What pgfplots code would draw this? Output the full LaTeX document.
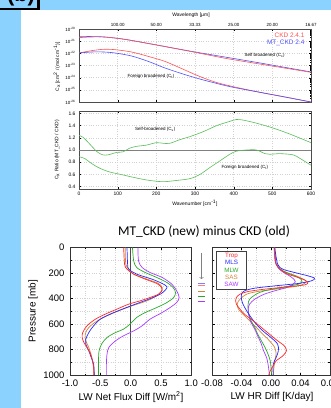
\documentclass[border=0pt]{standalone}
\usepackage{pgfplots}
\pgfplotsset{compat=1.18}
\usetikzlibrary{arrows.meta}
\usepackage{fontspec}
\setmainfont{Liberation Sans}
\newfontfamily\titlefont{Carlito}
\definecolor{bgblue}{RGB}{140,210,255}
\definecolor{ckdred}{RGB}{255,80,80}
\definecolor{mtblue}{RGB}{80,80,255}
\definecolor{ratgreen}{RGB}{90,190,90}
\definecolor{trop}{RGB}{255,40,40}
\definecolor{mls}{RGB}{40,40,255}
\definecolor{mlw}{RGB}{40,170,40}
\definecolor{sas}{RGB}{205,135,60}
\definecolor{saw}{RGB}{170,60,255}
\newcommand{\tnyf}{\fontsize{4.5}{5}\selectfont}
\newcommand{\smlf}{\fontsize{5}{6}\selectfont}
\newcommand{\tlf}{\fontsize{9.5}{10}\selectfont}
\newcommand{\supr}[1]{\textsuperscript{#1}}
\pgfplotsset{scaled ticks=false}
\begin{document}
\begin{tikzpicture}[x=1bp,y=1bp]
\path[use as bounding box] (0,0) rectangle (331,408);
\clip (0,0) rectangle (331,408);
\fill[bgblue] (0,0) rectangle (331,408);
\fill[white] (21,0) rectangle (331,398);
\draw[line width=2.5bp, fill=bgblue] (-5,399) rectangle (38.5,430);
\node[anchor=base, font=\bfseries\fontsize{22}{22}\selectfont, inner sep=0] at (21,406) {(b)};

% ---------- top panel: continuum coefficients ----------
\begin{axis}[at={(79bp,306bp)}, anchor=south west, scale only axis,
  width=232bp, height=73bp,
  xmin=0, xmax=600, ymode=log, ymin=1e-26, ymax=1e-20,
  xtick={0,100,200,300,400,500,600},
  xticklabels={,100.00,50.00,33.33,25.00,20.00,16.67},
  xticklabel pos=upper,
  ytick={1e-26,1e-25,1e-24,1e-23,1e-22,1e-21,1e-20},
  yticklabels={10\supr{-26},10\supr{-25},10\supr{-24},10\supr{-23},10\supr{-22},10\supr{-21},10\supr{-20}},
  minor y tick num=0,
  tick align=inside, major tick length=2bp, minor tick length=1bp,
  tick style={black, line width=0.3bp},
  ticklabel style={font=\tnyf},
  xticklabel style={yshift=-1bp},
  grid=major, major grid style={gray!35, dotted, line width=0.4bp},
  axis line style={black!70, line width=0.4bp},
  every axis plot/.append style={line width=0.6bp},
]
\addplot[mtblue, smooth] coordinates {(0,2.34e-21) (30,2.40e-21) (67,2.19e-21) (119,1.41e-21) (205,4.57e-22) (291,1.45e-22) (377,5.01e-23) (464,1.70e-23) (600,2.95e-24)};
\addplot[ckdred, smooth] coordinates {(0,1.95e-21) (30,2.19e-21) (67,2.19e-21) (119,1.41e-21) (205,4.57e-22) (291,1.38e-22) (377,3.98e-23) (464,1.38e-23) (600,2.75e-24)};
\addplot[ckdred, smooth] coordinates {(0,1.07e-22) (33,1.66e-22) (63,2.14e-22) (93,2.00e-22) (136,1.29e-22) (179,5.62e-23) (222,2.19e-23) (266,5.50e-24) (309,1.38e-24) (352,4.37e-25) (395,1.95e-25) (464,6.61e-26) (533,2.57e-26) (600,1.0e-26)};
\addplot[mtblue, smooth] coordinates {(0,1.07e-22) (33,1.29e-22) (63,1.29e-22) (93,1.07e-22) (136,6.03e-23) (179,2.19e-23) (222,6.31e-24) (266,2.14e-24) (309,8.32e-25) (352,3.63e-25) (395,1.70e-25) (464,6.61e-26) (533,2.57e-26) (600,1.0e-26)};
\node[anchor=east, text=ckdred, font=\fontsize{6.5}{7}\selectfont] at (rel axis cs:0.987,0.914) {CKD 2.4.1};
\node[anchor=east, text=mtblue, font=\fontsize{6.5}{7}\selectfont] at (rel axis cs:0.987,0.812) {MT\_CKD 2.4};
\node[font=\tnyf] at (rel axis cs:0.800,0.640) {Self broadened (C\textsubscript{s})};
\node[font=\tnyf] at (rel axis cs:0.310,0.356) {Foreign broadened (C\textsubscript{f})};
\end{axis}
\node[font=\smlf] at (191,393) {Wavelength [µm]};
\node[font=\smlf, rotate=90] at (57,341) {C\textsubscript{x} [cm\supr{2} / (mol cm\supr{-1})]};

% ---------- ratio panel ----------
\begin{axis}[at={(79bp,219bp)}, anchor=south west, scale only axis,
  width=232bp, height=78bp,
  xmin=0, xmax=600, ymin=0.36, ymax=1.64,
  xtick={0,100,200,300,400,500,600},
  xticklabels={0,100,200,300,400,500,600},
  ytick={0.4,0.6,0.8,1.0,1.2,1.4,1.6},
  yticklabels={0.4,0.6,0.8,1.0,1.2,1.4,1.6},
  tick align=inside, major tick length=2bp,
  tick style={black, line width=0.3bp},
  ticklabel style={font=\smlf},
  grid=major, major grid style={gray!35, dotted, line width=0.4bp},
  axis line style={black!70, line width=0.4bp},
  every axis plot/.append style={line width=0.6bp},
]
\addplot[gray, line width=0.4bp] coordinates {(0,1) (600,1)};
\addplot[ratgreen, smooth] coordinates {(0,1.24) (10,1.21) (23,1.13) (36,1.04) (49,0.96) (62,0.92) (75,0.92) (97,0.96) (114,0.97) (131,1.03) (149,1.06) (174,1.08) (200,1.12) (218,1.11) (235,1.11) (261,1.17) (287,1.22) (321,1.30) (356,1.40) (390,1.47) (407,1.50) (425,1.49) (459,1.44) (502,1.36) (546,1.26) (600,1.12)};
\addplot[ratgreen, smooth] coordinates {(0,0.89) (15,0.86) (32,0.78) (54,0.70) (79,0.64) (114,0.59) (149,0.54) (183,0.50) (218,0.48) (252,0.50) (287,0.53) (313,0.60) (338,0.71) (364,0.82) (390,0.93) (407,0.98) (433,1.00) (459,1.00) (481,0.94) (494,0.93) (520,0.94) (554,0.92) (572,0.86) (600,0.75)};
\node[font=\tnyf] at (axis cs:197,1.33) {Self-broadened (C\textsubscript{s})};
\node[font=\tnyf] at (axis cs:429,0.72) {Foreign broadened (C\textsubscript{f})};
\end{axis}
\node[font=\smlf] at (195,205) {Wavenumber [cm\supr{-1}]};
\node[font=\smlf, rotate=90] at (57,258) {C\textsubscript{x} Ratio (MT\_CKD / CKD)};

% ---------- title ----------
\node[font=\titlefont\fontsize{13.5}{14}\selectfont] at (204,176) {MT\_CKD (new) minus CKD (old)};

% ---------- flux panel ----------
\begin{axis}[at={(70bp,33bp)}, anchor=south west, scale only axis,
  width=121.3bp, height=127.5bp,
  xmin=-1, xmax=1, ymin=0, ymax=1000, y dir=reverse,
  xtick={-1,-0.5,0,0.5,1}, xticklabels={-1.0,-0.5,0.0,0.5,1.0},
  minor xtick={-0.75,-0.25,0.25,0.75},
  ytick={0,200,400,600,800,1000}, yticklabels={0,200,400,600,800,1000},
  minor ytick={100,300,500,700,900},
  tick align=inside, major tick length=2.5bp, minor tick length=1.5bp,
  tick style={black, line width=0.4bp},
  ticklabel style={font=\tlf},
  yticklabel style={xshift=-2bp},
  xticklabel style={yshift=-1bp},
  grid=both, major grid style={gray!35, dotted, line width=0.5bp},
  minor grid style={gray!35, dotted, line width=0.5bp},
  axis line style={black!80, line width=0.5bp},
  every axis plot/.append style={line width=0.7bp},
]
\addplot[black!70, line width=0.6bp] coordinates {(0,0) (0,1000)};
\addplot[sas, smooth] coordinates {(-0.09,0) (-0.08,131) (-0.03,170) (0.05,209) (0.27,248) (0.46,282) (0.52,314) (0.51,340) (0.43,379) (0.27,418) (0.02,458) (-0.20,497) (-0.39,536) (-0.55,575) (-0.69,627) (-0.75,680) (-0.74,732) (-0.69,784) (-0.64,863) (-0.61,941) (-0.60,1000)};
\addplot[mlw, smooth] coordinates {(0.03,0) (0.05,105) (0.10,157) (0.24,196) (0.43,235) (0.60,275) (0.70,314) (0.74,353) (0.71,392) (0.60,431) (0.43,471) (0.24,510) (0.10,549) (-0.01,601) (-0.12,641) (-0.25,667) (-0.39,706) (-0.48,758) (-0.52,810) (-0.53,876) (-0.53,941) (-0.53,1000)};
\addplot[saw, smooth] coordinates {(0.12,0) (0.13,105) (0.19,157) (0.32,196) (0.52,235) (0.68,288) (0.76,340) (0.80,392) (0.76,431) (0.65,471) (0.52,510) (0.32,562) (0.19,614) (0.05,654) (-0.12,693) (-0.25,732) (-0.36,784) (-0.39,837) (-0.40,915) (-0.40,1000)};
\addplot[mls, smooth] coordinates {(-0.06,0) (-0.05,131) (-0.03,170) (0.10,209) (0.35,248) (0.52,282) (0.60,308) (0.57,335) (0.49,366) (0.30,405) (0.08,444) (-0.14,484) (-0.34,523) (-0.50,562) (-0.61,614) (-0.69,667) (-0.74,719) (-0.74,758) (-0.69,810) (-0.65,863) (-0.61,915) (-0.60,1000)};
\addplot[trop, smooth] coordinates {(-0.115,0) (-0.10,131) (-0.06,170) (0.05,209) (0.24,248) (0.43,282) (0.50,308) (0.52,335) (0.46,366) (0.32,392) (0.16,418) (-0.03,444) (-0.23,484) (-0.42,523) (-0.58,562) (-0.72,614) (-0.79,667) (-0.80,706) (-0.77,745) (-0.72,784) (-0.66,837) (-0.63,889) (-0.61,941) (-0.61,1000)};
\end{axis}
\node[font=\fontsize{10}{11}\selectfont] at (131,11) {LW Net Flux Diff [W/m\supr{2}]};
\node[font=\fontsize{10}{11}\selectfont, rotate=90] at (33,97) {Pressure [mb]};

% ---------- heating-rate panel ----------
\begin{axis}[at={(212bp,33bp)}, anchor=south west, scale only axis,
  width=118bp, height=127.5bp,
  xmin=-0.08, xmax=0.08, ymin=0, ymax=1000, y dir=reverse,
  xtick={-0.08,-0.04,0,0.04,0.08}, xticklabels={-0.08,-0.04,0.00,0.04,0.08},
  minor xtick={-0.06,-0.02,0.02,0.06},
  ytick={0,200,400,600,800,1000}, yticklabels={},
  minor ytick={100,300,500,700,900},
  tick align=inside, major tick length=2.5bp, minor tick length=1.5bp,
  tick style={black, line width=0.4bp},
  ticklabel style={font=\tlf},
  xticklabel style={yshift=-1bp},
  grid=both, major grid style={gray!35, dotted, line width=0.5bp},
  minor grid style={gray!35, dotted, line width=0.5bp},
  axis line style={black!80, line width=0.5bp},
  every axis plot/.append style={line width=0.7bp},
]
\addplot[sas, smooth] coordinates {(0.004,0) (0.007,131) (0.016,183) (0.034,222) (0.046,256) (0.047,275) (0.037,301) (0.005,327) (-0.018,345) (-0.033,366) (-0.042,405) (-0.046,444) (-0.044,484) (-0.038,523) (-0.029,575) (-0.020,627) (-0.011,680) (-0.002,732) (0.005,784) (0.007,837) (0.005,889) (0.003,1000)};
\addplot[mlw, smooth] coordinates {(0.005,0) (0.007,131) (0.016,183) (0.032,222) (0.041,248) (0.042,267) (0.037,288) (0.014,314) (-0.009,340) (-0.020,366) (-0.029,405) (-0.031,444) (-0.031,484) (-0.030,523) (-0.027,575) (-0.022,627) (-0.018,680) (-0.013,732) (-0.008,784) (-0.004,837) (-0.001,889) (0.000,941) (0.001,1000)};
\addplot[saw, smooth] coordinates {(0.005,0) (0.007,131) (0.014,183) (0.025,222) (0.031,248) (0.033,267) (0.030,288) (0.021,314) (0.005,340) (-0.009,366) (-0.022,405) (-0.029,444) (-0.031,484) (-0.030,536) (-0.027,588) (-0.022,641) (-0.018,693) (-0.013,758) (-0.010,810) (-0.006,863) (-0.004,915) (-0.002,1000)};
\addplot[mls, smooth] coordinates {(0.005,0) (0.009,131) (0.016,170) (0.032,196) (0.050,222) (0.059,241) (0.055,261) (0.037,282) (0.005,301) (-0.022,319) (-0.036,340) (-0.040,366) (-0.040,405) (-0.038,444) (-0.033,497) (-0.027,549) (-0.020,601) (-0.011,654) (0.000,706) (0.009,758) (0.010,810) (0.007,863) (0.003,915) (0.003,1000)};
\addplot[trop, smooth] coordinates {(0.005,0) (0.005,78) (0.007,131) (0.012,170) (0.023,209) (0.037,235) (0.046,256) (0.050,275) (0.046,293) (0.023,308) (-0.009,327) (-0.031,345) (-0.042,366) (-0.047,392) (-0.048,418) (-0.047,444) (-0.042,484) (-0.036,523) (-0.024,575) (-0.013,627) (-0.002,680) (0.009,732) (0.018,771) (0.021,810) (0.016,850) (0.007,889) (0.003,928) (-0.001,967) (-0.003,1000)};
\end{axis}
\node[font=\fontsize{10}{11}\selectfont] at (272,11) {LW HR Diff [K/day]};
\node[draw=black!75, line width=0.7bp, fill=white, align=center, inner sep=2bp,
      font=\fontsize{6.3}{7.2}\selectfont, minimum width=30bp, minimum height=38bp] at (231.5,138)
  {\textcolor{trop}{Trop}\\\textcolor{mls}{MLS}\\\textcolor{mlw}{MLW}\\\textcolor{sas}{SAS}\\\textcolor{saw}{SAW}};
% profile key between the panels
\draw[gray, line width=0.5bp, -{To[length=2bp]}] (201.5,155) -- (201.5,129);
\draw[mls!60, line width=0.8bp] (197.5,124.7) -- (204.5,124.7);
\draw[trop!60, line width=0.8bp] (197.5,122.3) -- (204.5,122.3);
\draw[sas, line width=0.8bp] (197.5,117) -- (204.5,117);
\draw[mlw, line width=0.8bp] (197.5,111.3) -- (204.5,111.3);
\draw[saw, line width=0.8bp] (197.5,106.3) -- (204.5,106.3);
\end{tikzpicture}
\end{document}
